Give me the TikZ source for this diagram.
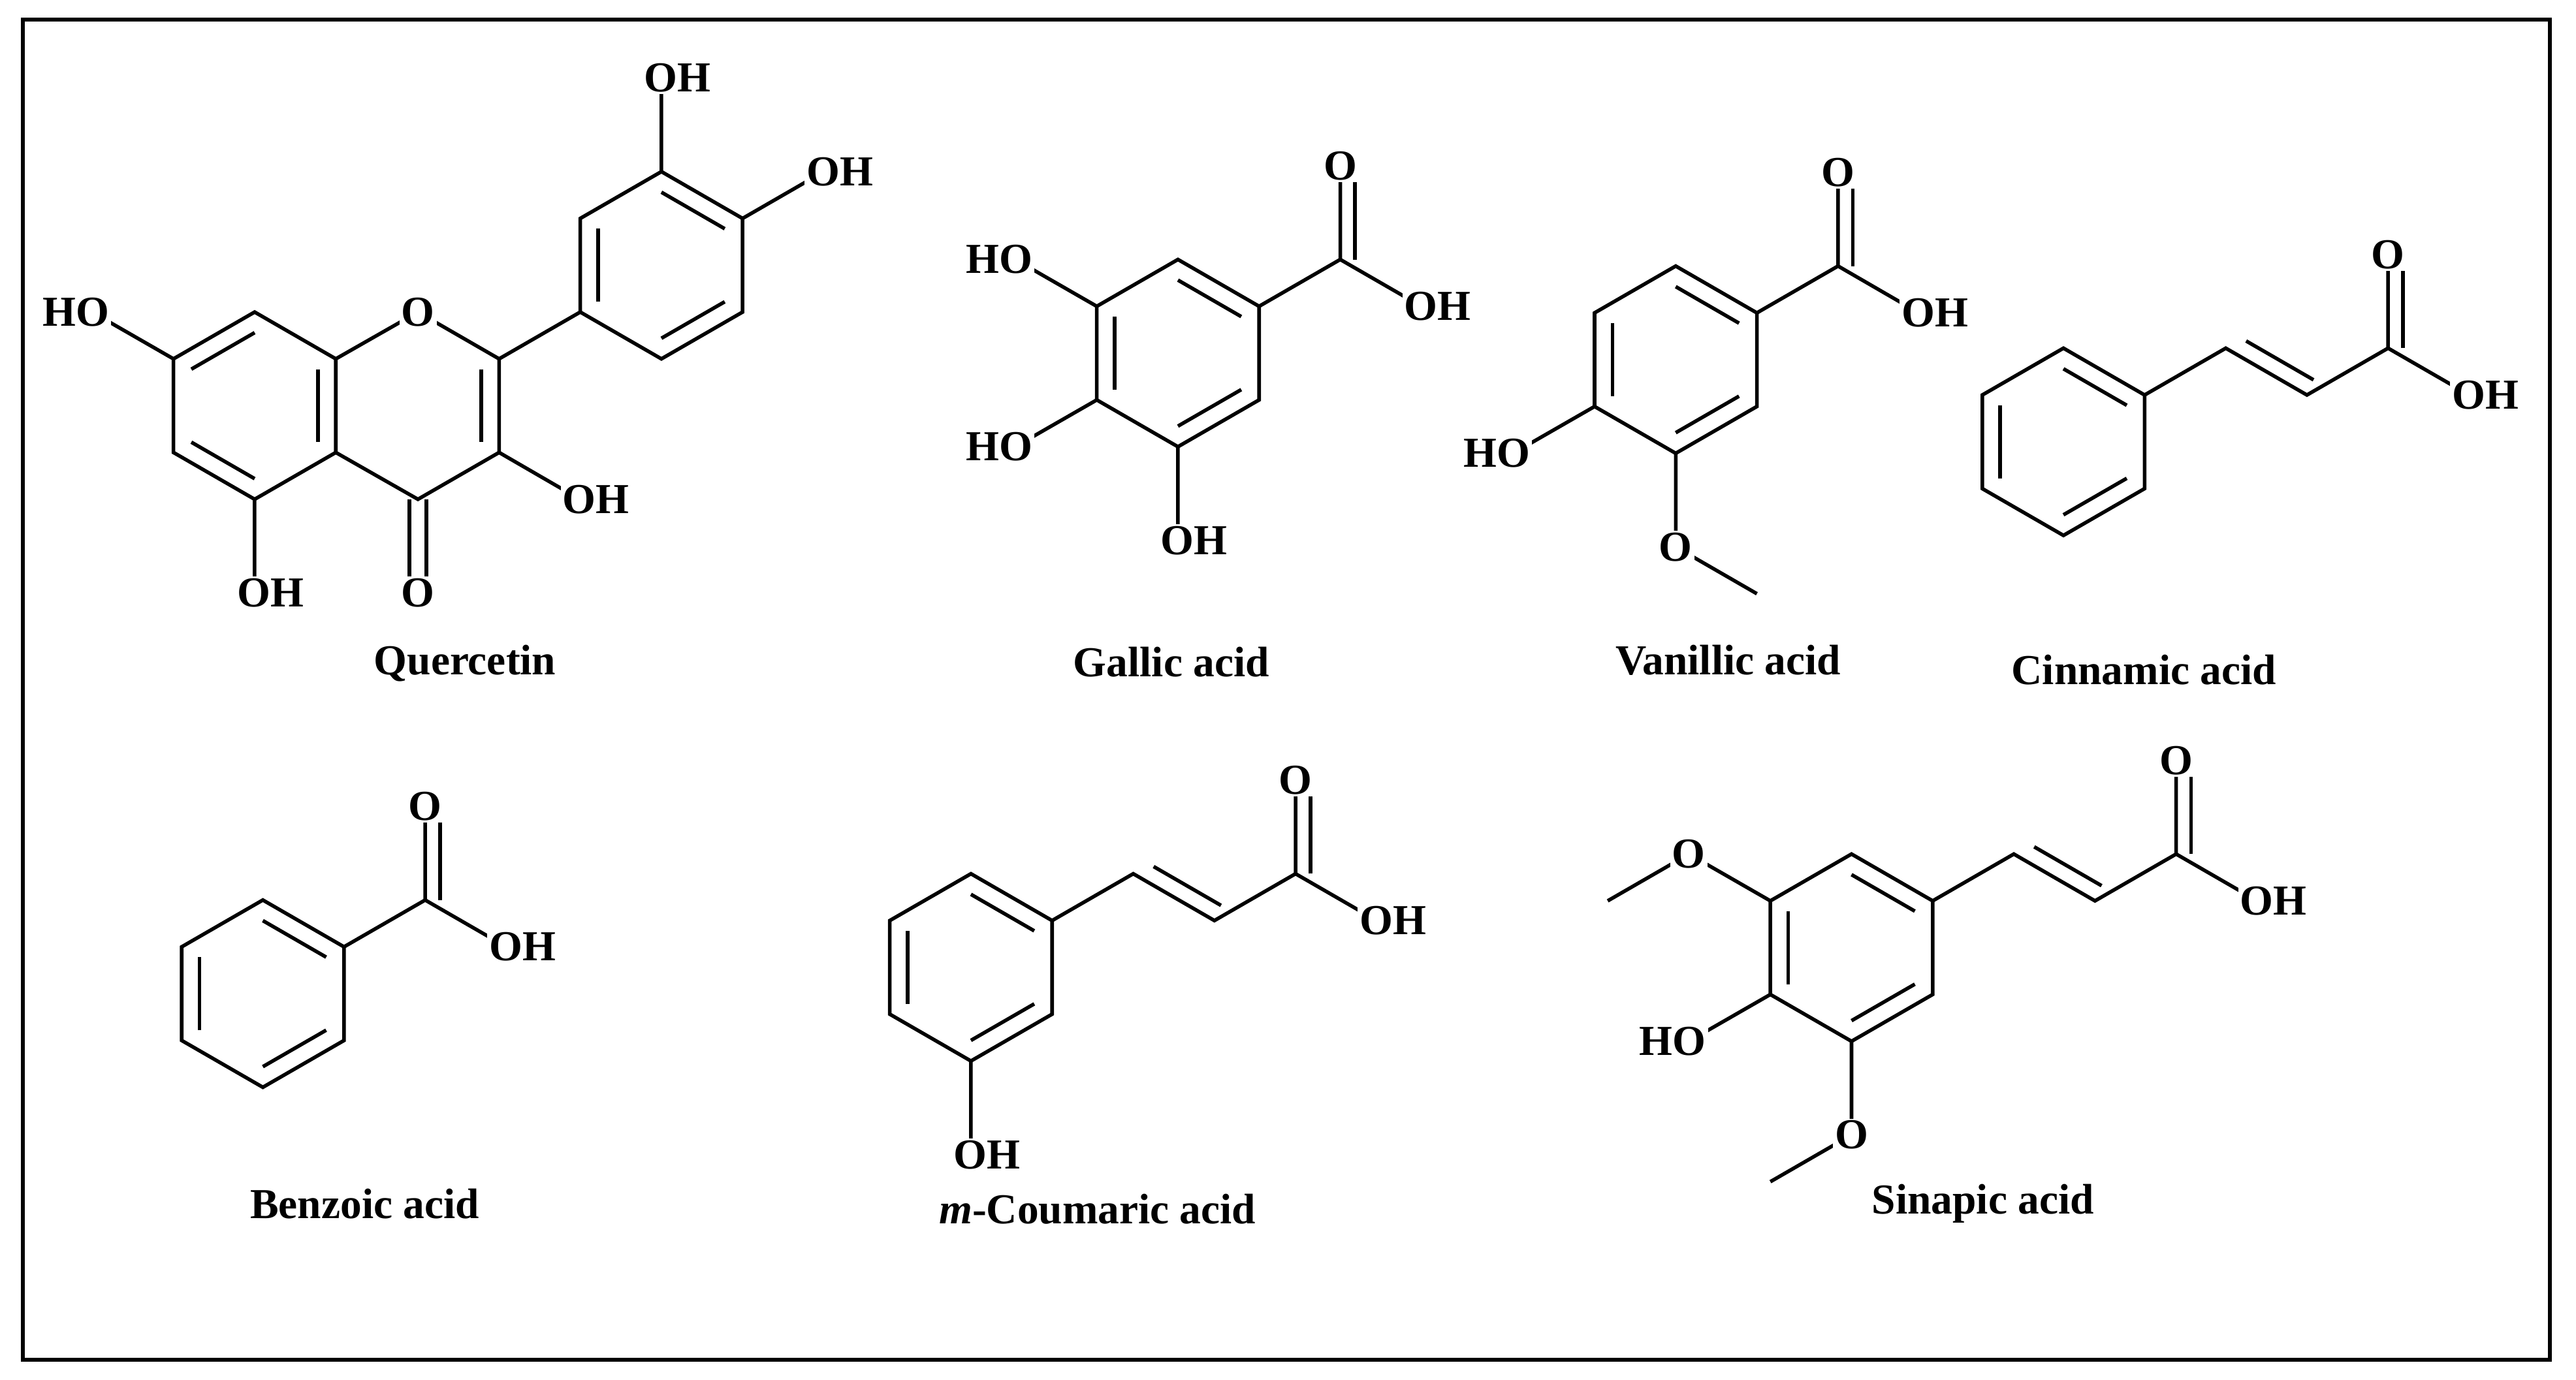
\documentclass[tikz,border=0pt]{standalone}
\usepackage{fontspec}
\setmainfont{Liberation Serif}
\usetikzlibrary{calc}
\tikzset{bond/.style={line width=1.1pt},
 atm/.style={fill=white,inner sep=0.6pt,font=\bfseries\fontsize{13}{13}\selectfont},
 lbl/.style={font=\bfseries\fontsize{13}{13}\selectfont}}
\newcommand\hex[3]{%
 \coordinate (#1c) at (#2,#3);
 \coordinate (#1t) at (#2,#3-57);
 \coordinate (#1tr) at (#2+49.4,#3-28.5);
 \coordinate (#1br) at (#2+49.4,#3+28.5);
 \coordinate (#1b) at (#2,#3+57);
 \coordinate (#1bl) at (#2-49.4,#3+28.5);
 \coordinate (#1tl) at (#2-49.4,#3-28.5);}
\newcommand\ring[1]{\draw[bond] (#1t)--(#1tr)--(#1br)--(#1b)--(#1bl)--(#1tl)--cycle;}
\newcommand\inb[3]{\draw[bond] ($(#1)!0.78!(#2)$) -- ($(#1)!0.78!(#3)$);}
\newcommand\dbl[2]{\draw[bond] ($(#1)!2.6pt!90:(#2)$)--($(#2)!2.6pt!-90:(#1)$);
 \draw[bond] ($(#1)!2.6pt!-90:(#2)$)--($(#2)!2.6pt!90:(#1)$);}
\newcommand\dbo[2]{\draw[bond] ($(#1)!4.5pt!-90:(#2)$)--($(#2)!4.5pt!90:(#1)$);}
\newcommand\dbs[3]{\draw[bond] ($(#1)!0.15!(#2)!5pt!#3:(#2)$)--($(#2)!0.02!(#1)!5pt!-#3:(#1)$);}
\begin{document}
\begin{tikzpicture}[x=0.5pt,y=-0.5pt]
\useasboundingbox (0,0) rectangle (1568,840);
\draw[line width=1.3pt] (14,12) rectangle (1552,828);
% Quercetin
\hex{A}{155}{247}\hex{C}{254.4}{247}\hex{B}{402.6}{161.5}
\ring{A}\ring{B}
\draw[bond] (Atr)--(Ct)--(Ctr)--(Cbr)--(Cb)--(Abr);
\inb{Ac}{Atl}{At}\inb{Ac}{Abl}{Ab}\inb{Ac}{Atr}{Abr}
\inb{Cc}{Ctr}{Cbr}
\inb{Bc}{Bt}{Btr}\inb{Bc}{Bbr}{Bb}\inb{Bc}{Bbl}{Btl}
\coordinate (q7) at (56,190);\coordinate (q5) at (155,361);
\coordinate (q4) at (254.4,361);\coordinate (q3) at (353,304);
\coordinate (q3p) at (402.6,47.5);\coordinate (q4p) at (501.4,104.5);
\draw[bond] (Atl)--(q7) (Ab)--(q5) (Cbr)--(q3) (Ctr)--(Bbl) (Bt)--(q3p) (Btr)--(q4p);
\dbl{Cb}{q4}
\node[atm] at (Ct) {O};
\node[atm,anchor=east,xshift=6pt] at (q7) {HO};
\node[atm,anchor=west,xshift=-6pt] at (q5) {OH};
\node[atm] at (q4) {O};
\node[atm,anchor=west,xshift=-6pt] at (q3) {OH};
\node[atm,anchor=west,xshift=-6pt] at (q3p) {OH};
\node[atm,anchor=west,xshift=-6pt] at (q4p) {OH};
\node[lbl] at (283,404) {Quercetin};
% Gallic acid
\hex{G}{717}{215}\ring{G}
\inb{Gc}{Gt}{Gtr}\inb{Gc}{Gbr}{Gb}\inb{Gc}{Gbl}{Gtl}
\coordinate (g1) at (815.8,158);\coordinate (g1o) at (815.8,101);\coordinate (g1h) at (865.2,186.5);
\coordinate (g3) at (618,158);\coordinate (g4) at (618,272);\coordinate (g5) at (717,329);
\draw[bond] (Gtr)--(g1)--(g1h) (Gtl)--(g3) (Gbl)--(g4) (Gb)--(g5) (g1)--(g1o);
\dbo{g1}{g1o}
\node[atm] at (g1o) {O};
\node[atm,anchor=west,xshift=-6pt] at (g1h) {OH};
\node[atm,anchor=east,xshift=6pt] at (g3) {HO};
\node[atm,anchor=east,xshift=6pt] at (g4) {HO};
\node[atm,anchor=west,xshift=-6pt] at (g5) {OH};
\node[lbl] at (713,403) {Gallic acid};
% Vanillic acid
\hex{V}{1020}{219}\ring{V}
\inb{Vc}{Vt}{Vtr}\inb{Vc}{Vbr}{Vb}\inb{Vc}{Vbl}{Vtl}
\coordinate (v1) at (1118.8,162);\coordinate (v1o) at (1118.8,105);\coordinate (v1h) at (1168,190.5);
\coordinate (v4) at (921,276);\coordinate (v3) at (1020,333);\coordinate (v3m) at (1069.4,361.5);
\draw[bond] (Vtr)--(v1)--(v1h) (Vbl)--(v4) (Vb)--(v3)--(v3m) (v1)--(v1o);
\dbo{v1}{v1o}
\node[atm] at (v1o) {O};
\node[atm,anchor=west,xshift=-6pt] at (v1h) {OH};
\node[atm,anchor=east,xshift=6pt] at (v4) {HO};
\node[atm] at (v3) {O};
\node[lbl] at (1052,402) {Vanillic acid};
% Cinnamic acid
\hex{N}{1256}{269}\ring{N}
\inb{Nc}{Nt}{Ntr}\inb{Nc}{Nbr}{Nb}\inb{Nc}{Nbl}{Ntl}
\coordinate (n1) at (1354.8,212);\coordinate (n2) at (1404.2,240.5);\coordinate (n3) at (1453.6,212);
\coordinate (n3o) at (1453.6,155);\coordinate (n3h) at (1503,240.5);
\draw[bond] (Ntr)--(n1)--(n2)--(n3)--(n3h) (n3)--(n3o);
\dbs{n1}{n2}{90}\dbo{n3}{n3o}
\node[atm] at (n3o) {O};
\node[atm,anchor=west,xshift=-6pt] at (n3h) {OH};
\node[lbl] at (1305,408) {Cinnamic acid};
% Benzoic acid
\hex{Z}{160}{605}\ring{Z}
\inb{Zc}{Zt}{Ztr}\inb{Zc}{Zbr}{Zb}\inb{Zc}{Zbl}{Ztl}
\coordinate (z1) at (258.8,548);\coordinate (z1o) at (258.8,491);\coordinate (z1h) at (308.2,576.5);
\draw[bond] (Ztr)--(z1)--(z1h) (z1)--(z1o);
\dbo{z1}{z1o}
\node[atm] at (z1o) {O};
\node[atm,anchor=west,xshift=-6pt] at (z1h) {OH};
\node[lbl] at (222,733) {Benzoic acid};
% m-Coumaric acid
\hex{M}{591}{589}\ring{M}
\inb{Mc}{Mt}{Mtr}\inb{Mc}{Mbr}{Mb}\inb{Mc}{Mbl}{Mtl}
\coordinate (m1) at (689.8,532);\coordinate (m2) at (739.2,560.5);\coordinate (m3) at (788.6,532);
\coordinate (m3o) at (788.6,475);\coordinate (m3h) at (838,560.5);\coordinate (mh) at (591,703);
\draw[bond] (Mtr)--(m1)--(m2)--(m3)--(m3h) (Mb)--(mh) (m3)--(m3o);
\dbs{m1}{m2}{90}\dbo{m3}{m3o}
\node[atm] at (m3o) {O};
\node[atm,anchor=west,xshift=-6pt] at (m3h) {OH};
\node[atm,anchor=west,xshift=-6pt] at (mh) {OH};
\node[lbl] at (668,736) {\textit{m}-Coumaric acid};
% Sinapic acid
\hex{S}{1127}{577}\ring{S}
\inb{Sc}{St}{Str}\inb{Sc}{Sbr}{Sb}\inb{Sc}{Sbl}{Stl}
\coordinate (s3) at (1028,520);\coordinate (s3m) at (978.6,548.5);
\coordinate (s4) at (1028,634);\coordinate (s5) at (1127,691);\coordinate (s5m) at (1077.6,719.5);
\coordinate (s1) at (1225.8,520);\coordinate (s2) at (1275.2,548.5);\coordinate (sc) at (1324.6,520);
\coordinate (sco) at (1324.6,463);\coordinate (sch) at (1374,548.5);
\draw[bond] (Stl)--(s3)--(s3m) (Sbl)--(s4) (Sb)--(s5)--(s5m) (Str)--(s1)--(s2)--(sc)--(sch) (sc)--(sco);
\dbs{s1}{s2}{90}\dbo{sc}{sco}
\node[atm] at (s3) {O};
\node[atm] at (s5) {O};
\node[atm,anchor=east,xshift=6pt] at (s4) {HO};
\node[atm] at (sco) {O};
\node[atm,anchor=west,xshift=-6pt] at (sch) {OH};
\node[lbl] at (1207,733) {Sinapic acid};
\end{tikzpicture}
\end{document}
